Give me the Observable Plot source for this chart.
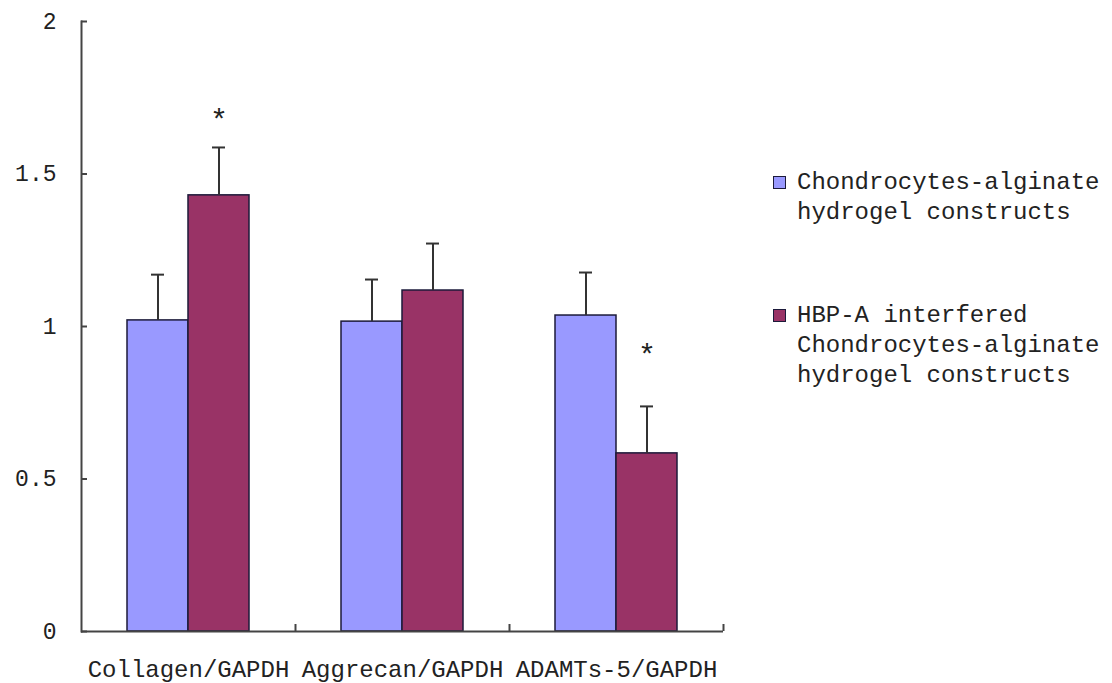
<!DOCTYPE html>
<html><head><meta charset="utf-8">
<script src="https://cdn.jsdelivr.net/npm/d3@7"></script>
<script src="https://cdn.jsdelivr.net/npm/@observablehq/plot@0.6"></script>
<style>
body{margin:0;background:#fff;}
#wrap{position:relative;width:1112px;height:683px;overflow:hidden;}
#legend{position:absolute;left:773px;top:168px;font-family:"Liberation Mono",monospace;font-size:24px;line-height:30px;color:#222;}
.entry{position:relative;padding-left:24px;white-space:pre;}
.sw{position:absolute;left:0;top:8px;width:13px;height:13px;border:1px solid #1c1a3a;box-sizing:border-box;}
</style>
</head><body><div id="wrap"></div>
<script>
const categories = ["Collagen/GAPDH", "Aggrecan/GAPDH", "ADAMTs-5/GAPDH"];
const series = ["Chondrocytes-alginate hydrogel constructs", "HBP-A interfered Chondrocytes-alginate hydrogel constructs"];
const legendLines = [["Chondrocytes-alginate", "hydrogel constructs"], ["HBP-A interfered", "Chondrocytes-alginate", "hydrogel constructs"]];
const control = [1.02, 1.016, 1.036];
const controlErr = [0.15, 0.138, 0.141];
const interfered = [1.43, 1.118, 0.584];
const interferedErr = [0.157, 0.154, 0.154];
const starY = [1.675, null, 0.905];
const yTicks = [0, 0.5, 1, 1.5, 2];
const yTickLabels = ["0", "0.5", "1", "1.5", "2"];
const colors = ["#9999ff", "#993366"];

const rows = categories.flatMap((c, i) => [
  {cat: c, s: series[0], v: control[i], e: controlErr[i], star: null},
  {cat: c, s: series[1], v: interfered[i], e: interferedErr[i], star: starY[i]}
]);

const plot = Plot.plot({
  width: 1112, height: 683,
  marginLeft: 80, marginRight: 389, marginTop: 21, marginBottom: 52,
  fx: {domain: categories, padding: 0, label: null},
  x: {domain: series, paddingInner: 0, paddingOuter: 0.754, axis: null},
  y: {domain: [0, 2], axis: null},
  color: {domain: series, range: colors},
  style: {fontFamily: "'Liberation Mono', monospace", fontSize: "23px", color: "#222", background: "#fff"},
  marks: [
    Plot.barY(rows, {fx: "cat", x: "s", y: "v", fill: "s", stroke: "#1c1a3a", strokeWidth: 1.5}),
    Plot.ruleX(rows, {fx: "cat", x: "s", y1: "v", y2: d => d.v + d.e, stroke: "#333", strokeWidth: 2}),
    Plot.tickY(rows, {fx: "cat", x: "s", y: d => d.v + d.e, stroke: "#333", strokeWidth: 2, insetLeft: 24, insetRight: 24}),
    Plot.text(rows.filter(d => d.star != null), {fx: "cat", x: "s", y: "star", text: () => "*", fontSize: 30, fill: "#222"}),
    Plot.ruleY([0], {stroke: "#444", strokeWidth: 2}),
    Plot.frame({anchor: "left", facetAnchor: "left", stroke: "#444", strokeWidth: 2}),
    Plot.axisY({ticks: yTicks, tickFormat: d => yTickLabels[yTicks.indexOf(d)], tickSize: 6, dx: 6, tickPadding: 25, stroke: "#444", strokeWidth: 2}),
    Plot.axisFx({anchor: "bottom", tickSize: 0, tickPadding: 28, fontSize: 24, label: null}),
    Plot.axisFx({anchor: "bottom", tickSize: 7, dx: 107, dy: -7, tickFormat: () => "", label: null, stroke: "#444", strokeWidth: 2})
  ]
});
const wrap = document.getElementById("wrap");
wrap.appendChild(plot);

const legend = document.createElement("div");
legend.id = "legend";
series.forEach((s, i) => {
  const e = document.createElement("div");
  e.className = "entry";
  if (i > 0) e.style.marginTop = "73px";
  const sw = document.createElement("div");
  sw.className = "sw";
  sw.style.background = colors[i];
  e.appendChild(sw);
  e.appendChild(document.createTextNode(legendLines[i].join("\n")));
  legend.appendChild(e);
});
wrap.appendChild(legend);
</script>
</body></html>
